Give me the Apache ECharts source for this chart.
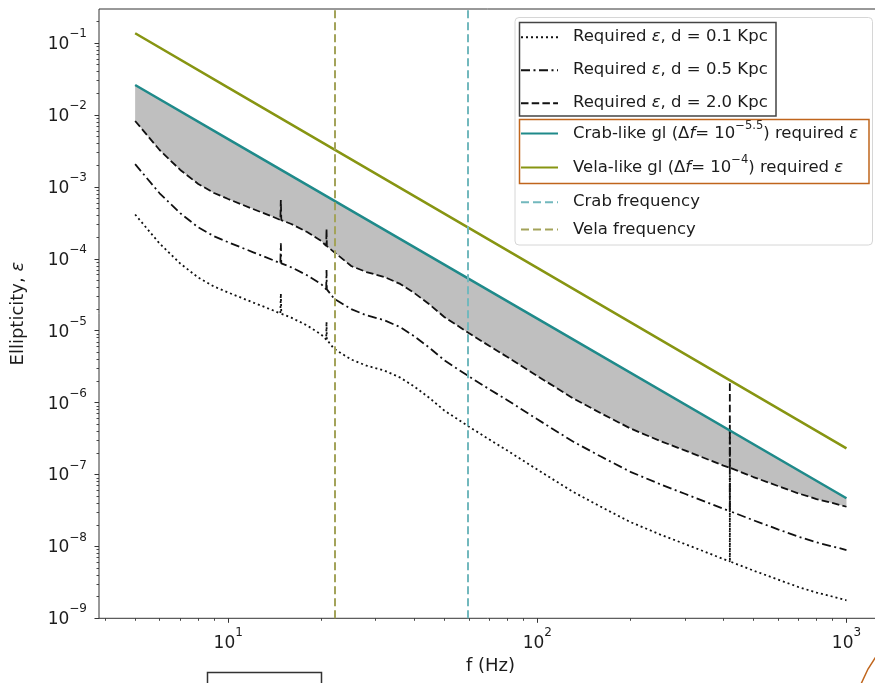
<!DOCTYPE html>
<html>
<head>
<meta charset="utf-8">
<script src="https://cdn.jsdelivr.net/npm/echarts@6/dist/echarts.min.js"></script>
<style>
  html, body { margin: 0; padding: 0; background: #ffffff; }
  #chart { width: 875px; height: 683px; }
</style>
</head>
<body>
<div id="chart"></div>
<script>
// Gravitational-wave frequency grid (Hz) shared by the three distance curves
const freqHz = [5, 6, 7, 8, 9, 10, 12, 14, 14.75, 14.8, 14.85, 16, 18, 20, 20.75, 20.8, 20.85,
  22, 25, 28, 32, 36, 40, 45, 50, 60, 70, 80, 100, 130, 160, 200, 250, 300, 350, 400,
  419.3, 419.5, 419.7, 500, 600, 700, 800, 900, 1000];

// Required ellipticity for a source at 0.1 kpc
const epsD01 = [4.13e-4, 1.63e-4, 8.59e-5, 5.48e-5, 4.11e-5, 3.40e-5, 2.48e-5, 1.91e-5,
  1.73e-5, 3.29e-5, 1.72e-5, 1.52e-5, 1.18e-5, 8.85e-6, 7.54e-6, 1.33e-5, 7.50e-6,
  5.6e-6, 3.97e-6, 3.27e-6, 2.79e-6, 2.23e-6, 1.67e-6, 1.14e-6, 7.76e-7, 4.65e-7, 3.06e-7,
  2.15e-7, 1.17e-7, 5.79e-8, 3.58e-8, 2.18e-8, 1.46e-8, 1.08e-8, 8.36e-9, 6.67e-9,
  6.18e-9, 9.8e-8, 6.18e-9, 4.61e-9, 3.46e-9, 2.72e-9, 2.28e-9, 2.01e-9, 1.78e-9];

// Required ellipticity for a source at 0.5 kpc
const epsD05 = [2.07e-3, 8.15e-4, 4.30e-4, 2.74e-4, 2.06e-4, 1.70e-4, 1.24e-4, 9.53e-5,
  8.67e-5, 1.64e-4, 8.62e-5, 7.62e-5, 5.90e-5, 4.43e-5, 3.77e-5, 6.98e-5, 3.75e-5,
  2.8e-5, 1.99e-5, 1.64e-5, 1.40e-5, 1.12e-5, 8.36e-6, 5.69e-6, 3.88e-6, 2.32e-6, 1.53e-6,
  1.08e-6, 5.86e-7, 2.90e-7, 1.79e-7, 1.09e-7, 7.31e-8, 5.40e-8, 4.18e-8, 3.33e-8,
  3.09e-8, 4.9e-7, 3.09e-8, 2.31e-8, 1.73e-8, 1.36e-8, 1.14e-8, 1.00e-8, 8.91e-9];

// Required ellipticity for a source at 2.0 kpc
const epsD20 = [8.26e-3, 3.26e-3, 1.72e-3, 1.10e-3, 8.22e-4, 6.79e-4, 4.95e-4, 3.81e-4,
  3.47e-4, 6.58e-4, 3.45e-4, 3.05e-4, 2.36e-4, 1.77e-4, 1.51e-4, 2.59e-4, 1.50e-4,
  1.24e-4, 7.94e-5, 6.55e-5, 5.58e-5, 4.47e-5, 3.34e-5, 2.28e-5, 1.55e-5, 9.29e-6, 6.12e-6,
  4.30e-6, 2.34e-6, 1.16e-6, 7.16e-7, 4.37e-7, 2.92e-7, 2.16e-7, 1.67e-7, 1.33e-7,
  1.24e-7, 1.95e-6, 1.24e-7, 9.22e-8, 6.92e-8, 5.45e-8, 4.56e-8, 4.02e-8, 3.56e-8];

// Glitch-size reference lines
const glitchFreqHz = [5, 10, 100, 1000];
const epsCrabGlitch = [0.0261, 4.62e-3, 1.47e-5, 4.67e-8];
const epsVelaGlitch = [0.137, 0.0240, 7.46e-5, 2.31e-7];

// Pulsar GW frequencies
const crabFreqHz = 59.4;
const velaFreqHz = 22.1;

// Axis ticks
const xMajorTicks = [10, 100, 1000];
const yMajorTicks = [1e-9, 1e-8, 1e-7, 1e-6, 1e-5, 1e-4, 1e-3, 1e-2, 1e-1];
const minorMultipliers = [2, 3, 4, 5, 6, 7, 8, 9];

const X_MIN = 3.82, X_MAX = 1303;
const Y_MIN = 1e-9, Y_MAX = 0.298;

const FONT = 'DejaVu Sans';
const TXT = '#1c1c1c';

function minorTicks(majors, lo, hi) {
  const out = [];
  const decades = [majors[0] / 10].concat(majors);
  decades.forEach(d => minorMultipliers.forEach(m => {
    const v = d * m;
    if (v >= lo && v <= hi) out.push(v);
  }));
  return out;
}

function powLabel(v) {
  const e = Math.round(Math.log10(v));
  return '{b|10}{s|' + (e < 0 ? '\u2212' + (-e) : String(e)) + '}';
}

const tickRich = {
  b: { fontSize: 17, lineHeight: 20, fontFamily: FONT, color: TXT, verticalAlign: 'bottom' },
  s: { fontSize: 12, lineHeight: 12, fontFamily: FONT, color: TXT, verticalAlign: 'bottom', padding: [0, 0, 13, 0] }
};

const pairs = (xs, ys) => xs.map((x, i) => [x, ys[i]]);

const NAME_D01 = 'Required \u03b5, d = 0.1 Kpc';
const NAME_D05 = 'Required \u03b5, d = 0.5 Kpc';
const NAME_D20 = 'Required \u03b5, d = 2.0 Kpc';
const NAME_CRAB_GL = 'Crab-like gl';
const NAME_VELA_GL = 'Vela-like gl';
const NAME_CRAB_F = 'Crab frequency';
const NAME_VELA_F = 'Vela frequency';

const legendText = {};
legendText[NAME_D01] = 'Required {i|\u03b5}, d = 0.1 Kpc';
legendText[NAME_D05] = 'Required {i|\u03b5}, d = 0.5 Kpc';
legendText[NAME_D20] = 'Required {i|\u03b5}, d = 2.0 Kpc';
legendText[NAME_CRAB_GL] = '{t|Crab-like gl (\u0394}{ti|f}{t|= 10}{s|\u22125.5}{t|) required }{ti|\u03b5}';
legendText[NAME_VELA_GL] = '{t|Vela-like gl (\u0394}{ti|f}{t|= 10}{s|\u22124}{t|) required }{ti|\u03b5}';
legendText[NAME_CRAB_F] = 'Crab frequency';
legendText[NAME_VELA_F] = 'Vela frequency';

// every token in a line has the same total height, so the exponent offset is set by its padding
const legendRich = {
  i: { fontStyle: 'italic', fontSize: 16.5, fontFamily: FONT, color: TXT, lineHeight: 16 },
  t: { fontSize: 16.5, fontFamily: FONT, color: TXT, lineHeight: 16, padding: [10, 0, 10, 0] },
  ti: { fontStyle: 'italic', fontSize: 16.5, fontFamily: FONT, color: TXT, lineHeight: 16, padding: [10, 0, 10, 0] },
  s: { fontSize: 11.5, fontFamily: FONT, color: TXT, lineHeight: 12, padding: [4.7, 0, 19.3, 0] }
};

function legendBlock(names, top, gap) {
  return {
    orient: 'vertical', left: 520, top: top, padding: 0,
    itemWidth: 37, itemHeight: 16, itemGap: gap,
    data: names,
    formatter: n => legendText[n],
    selectedMode: false,
    itemStyle: { opacity: 0 },
    textStyle: { fontSize: 16.5, fontFamily: FONT, color: TXT, lineHeight: 16, padding: [0, 0, 0, 10], rich: legendRich }
  };
}

const chart = echarts.init(document.getElementById('chart'), null, { renderer: 'canvas' });

chart.setOption({
  animation: false,
  backgroundColor: '#ffffff',
  grid: {
    left: 99, top: 9, right: -7, bottom: 64.7,
    outerBoundsMode: 'none', containLabel: false,
    show: true, borderColor: '#333333', borderWidth: 1, backgroundColor: 'transparent'
  },
  xAxis: [{
    type: 'log', logBase: 10, min: X_MIN, max: X_MAX,
    name: 'f (Hz)', nameLocation: 'middle', nameGap: 38,
    nameTextStyle: { fontSize: 18, fontFamily: FONT, color: TXT },
    axisLine: { show: false },
    splitLine: { show: false },
    axisTick: { show: true, inside: false, length: 4.5, lineStyle: { color: '#333333', width: 1 }, customValues: xMajorTicks },
    axisLabel: { customValues: xMajorTicks, formatter: powLabel, rich: tickRich, margin: 14 }
  }, {
    type: 'log', logBase: 10, min: X_MIN, max: X_MAX, position: 'bottom',
    axisLine: { show: false }, splitLine: { show: false },
    axisLabel: { show: false },
    axisTick: { show: true, inside: false, length: 2.5, lineStyle: { color: '#333333', width: 0.9 }, customValues: minorTicks(xMajorTicks, X_MIN, X_MAX) }
  }],
  yAxis: [{
    type: 'log', logBase: 10, min: Y_MIN, max: Y_MAX,
    name: 'Ellipticity, {i|\u03b5}', nameLocation: 'middle', nameGap: 72, nameRotate: 90,
    nameTextStyle: { fontSize: 18, fontFamily: FONT, color: TXT,
      rich: { i: { fontStyle: 'italic', fontSize: 18, fontFamily: FONT, color: TXT } } },
    axisLine: { show: false },
    splitLine: { show: false },
    axisTick: { show: true, inside: false, length: 4.5, lineStyle: { color: '#333333', width: 1 }, customValues: yMajorTicks },
    axisLabel: { customValues: yMajorTicks, formatter: powLabel, rich: tickRich, margin: 12 }
  }, {
    type: 'log', logBase: 10, min: Y_MIN, max: Y_MAX, position: 'left',
    axisLine: { show: false }, splitLine: { show: false },
    axisLabel: { show: false },
    axisTick: { show: true, inside: false, length: 2.5, lineStyle: { color: '#333333', width: 0.9 }, customValues: minorTicks(yMajorTicks, Y_MIN, Y_MAX) }
  }],
  legend: [
    legendBlock([NAME_D01, NAME_D05, NAME_D20], 28.7, 16),
    legendBlock([NAME_CRAB_GL], 115, 0),
    legendBlock([NAME_VELA_GL], 149, 0),
    legendBlock([NAME_CRAB_F, NAME_VELA_F], 193.7, 10.3)
  ],
  graphic: [
    { type: 'rect', z: 3, shape: { x: 515, y: 17.5, width: 357.5, height: 227.5, r: 4 },
      style: { fill: 'rgba(255,255,255,0.85)', stroke: '#d6d6d6', lineWidth: 1 } },
    { type: 'rect', z: 10, shape: { x: 519.5, y: 22.5, width: 256.5, height: 93.5 },
      style: { fill: 'none', stroke: '#444444', lineWidth: 1.5 } },
    { type: 'rect', z: 10, shape: { x: 519.5, y: 119.5, width: 349.5, height: 64 },
      style: { fill: 'none', stroke: '#c0651c', lineWidth: 1.5 } },
    { type: 'rect', z: 10, shape: { x: 207.5, y: 672.5, width: 114, height: 30 },
      style: { fill: 'none', stroke: '#333333', lineWidth: 1.5 } },
    { type: 'polyline', z: 10, shape: { points: [[877, 655], [868, 669], [861, 684]] },
      style: { fill: null, stroke: '#c0651c', lineWidth: 1.5 } }
  ],
  series: [
    {
      // shaded band between the 2 kpc curve and the Crab-like glitch line
      type: 'custom', name: 'band', z: 1, silent: true,
      xAxisIndex: 0, yAxisIndex: 0,
      data: [[freqHz[0], epsD20[0]]],
      renderItem: function (params, api) {
        const lower = freqHz.map((f, i) => api.coord([f, epsD20[i]]));
        const upper = glitchFreqHz.map((f, i) => api.coord([f, epsCrabGlitch[i]])).reverse();
        return {
          type: 'polygon',
          shape: { points: lower.concat(upper) },
          style: { fill: 'rgba(128,128,128,0.5)', stroke: null }
        };
      }
    },
    {
      type: 'line', name: NAME_D01, z: 2, symbol: 'none', data: pairs(freqHz, epsD01),
      lineStyle: { color: '#111111', width: 1.8, type: [2, 3] }, itemStyle: { color: '#111111' }
    },
    {
      type: 'line', name: NAME_D05, z: 2, symbol: 'none', data: pairs(freqHz, epsD05),
      lineStyle: { color: '#111111', width: 1.8, type: [9, 3.5, 2, 3.5] }, itemStyle: { color: '#111111' }
    },
    {
      type: 'line', name: NAME_D20, z: 2, symbol: 'none', data: pairs(freqHz, epsD20),
      lineStyle: { color: '#111111', width: 1.8, type: [7.5, 3.2] }, itemStyle: { color: '#111111' }
    },
    {
      type: 'line', name: NAME_CRAB_GL, z: 3, symbol: 'none', data: pairs(glitchFreqHz, epsCrabGlitch),
      lineStyle: { color: '#1f8a8a', width: 2.5, type: 'solid' }, itemStyle: { color: '#1f8a8a' }
    },
    {
      type: 'line', name: NAME_VELA_GL, z: 3, symbol: 'none', data: pairs(glitchFreqHz, epsVelaGlitch),
      lineStyle: { color: '#879512', width: 2.5, type: 'solid' }, itemStyle: { color: '#879512' }
    },
    {
      type: 'line', name: NAME_CRAB_F, z: 4, symbol: 'none', data: [],
      lineStyle: { color: '#72b8bd', width: 2, type: [8, 4] }, itemStyle: { color: '#72b8bd' },
      markLine: {
        silent: true, symbol: ['none', 'none'], label: { show: false },
        lineStyle: { color: '#72b8bd', width: 2, type: [8, 4] },
        data: [{ xAxis: crabFreqHz }]
      }
    },
    {
      type: 'line', name: NAME_VELA_F, z: 4, symbol: 'none', data: [],
      lineStyle: { color: '#a3a35a', width: 2, type: [8, 4] }, itemStyle: { color: '#a3a35a' },
      markLine: {
        silent: true, symbol: ['none', 'none'], label: { show: false },
        lineStyle: { color: '#a3a35a', width: 2, type: [8, 4] },
        data: [{ xAxis: velaFreqHz }]
      }
    }
  ]
});
</script>
</body>
</html>
